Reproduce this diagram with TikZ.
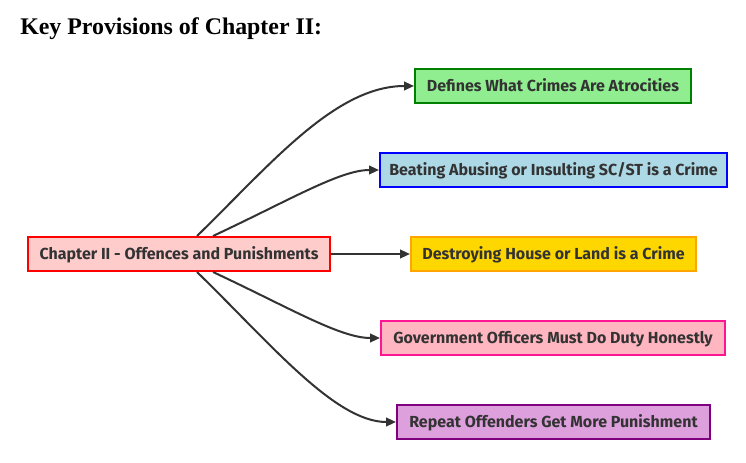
\documentclass[tikz,border=0pt]{standalone}
\usepackage{fontspec}
\setmainfont{Fira Sans}
\newfontfamily\titlefont{Liberation Serif}
\usetikzlibrary{arrows.meta}
\definecolor{txt}{HTML}{333333}
\definecolor{edge}{HTML}{333333}
\tikzset{
  box/.style={draw, line width=1.5pt, text=txt, inner sep=0pt, minimum height=34*0.75pt,
    text height=8.2pt, text depth=0pt,
    font=\fontsize{12pt}{14pt}\selectfont\bfseries},
  conn/.style={draw=edge, line width=1.5pt, -{Triangle[length=7.5pt,width=6.5pt]}},
}
\begin{document}
\begin{tikzpicture}[x=0.75pt,y=-0.75pt]
\useasboundingbox (0,0) rectangle (746,463);
\node[anchor=base west, font=\titlefont\fontsize{17.9pt}{20pt}\selectfont\bfseries, inner sep=0pt] (title) at (20,35) {Key Provisions of Chapter II:};
\node[box, fill={rgb,255:red,255;green,204;blue,204}, draw=red, minimum width=302*0.75pt] (c) at (179,254) {Chapter II - Offences and Punishments};
\node[box, fill={rgb,255:red,144;green,238;blue,144}, draw={rgb,255:red,0;green,128;blue,0}, minimum width=276*0.75pt] (a) at (553,86) {Defines What Crimes Are Atrocities};
\node[box, fill={rgb,255:red,173;green,216;blue,230}, draw=blue, minimum width=347*0.75pt] (b) at (553.5,170) {Beating Abusing or Insulting SC/ST is a Crime};
\node[box, fill={rgb,255:red,255;green,215;blue,0}, draw={rgb,255:red,255;green,165;blue,0}, minimum width=285*0.75pt] (d) at (553.5,254) {Destroying House or Land is a Crime};
\node[box, fill={rgb,255:red,255;green,182;blue,193}, draw={rgb,255:red,255;green,20;blue,147}, minimum width=344*0.75pt] (e) at (553,338) {Government Officers Must Do Duty Honestly};
\node[box, fill={rgb,255:red,221;green,160;blue,221}, draw={rgb,255:red,128;green,0;blue,128}, minimum width=313*0.75pt] (f) at (553.5,422) {Repeat Offenders Get More Punishment};
\draw[conn] ([xshift=18*0.75pt]c.north) .. controls (270,165) and (335,86) .. (a.west);
\draw[conn] ([xshift=34*0.75pt]c.north) .. controls (290,200) and (340,170) .. (b.west);
\draw[conn] (c.east) -- (d.west);
\draw[conn] ([xshift=34*0.75pt]c.south) .. controls (290,308) and (340,338) .. (e.west);
\draw[conn] ([xshift=18*0.75pt]c.south) .. controls (270,343) and (335,422) .. (f.west);
\end{tikzpicture}
\end{document}
